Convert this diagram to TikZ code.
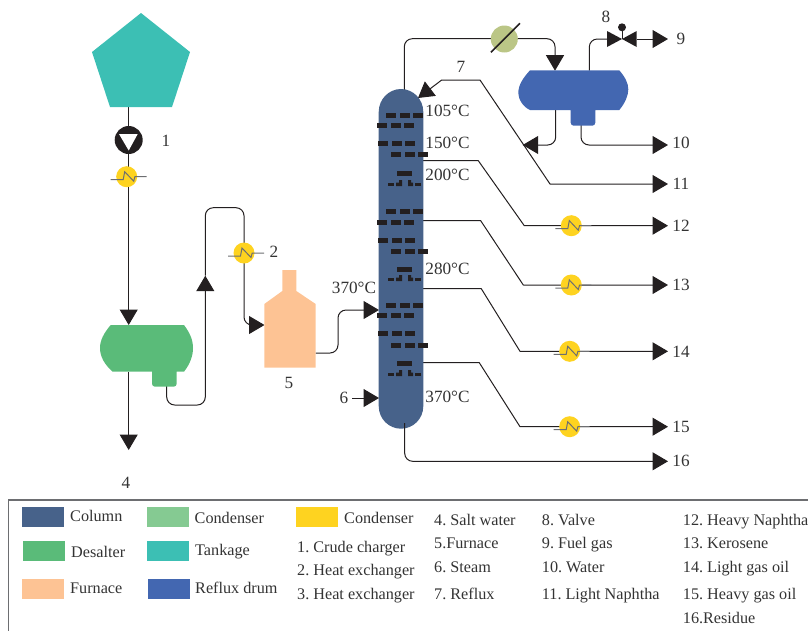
\documentclass[tikz,border=0pt]{standalone}
\usepackage{fontspec}
\setmainfont{Liberation Serif}
\usetikzlibrary{arrows.meta}
\frenchspacing
\definecolor{ink}{HTML}{231F20}
\definecolor{txt}{HTML}{333333}
\definecolor{colblue}{HTML}{47628A}
\definecolor{condgreen}{HTML}{85CA92}
\definecolor{condolive}{HTML}{BBC686}
\definecolor{hxyellow}{HTML}{FED320}
\definecolor{desgreen}{HTML}{5ABB79}
\definecolor{tealtank}{HTML}{3CBFB4}
\definecolor{furn}{HTML}{FDC394}
\definecolor{drum}{HTML}{4367B1}
\definecolor{zig}{HTML}{6D6E71}
\tikzset{
  pipe/.style={draw=ink,line width=1pt,line join=round},
  bentpipe/.style={pipe,rounded corners=8pt},
  headed/.style={-{Triangle[length=15.5pt,width=18pt]}},
  hxnode/.style={circle,fill=hxyellow,minimum size=21pt,inner sep=0pt},
  ziga/.style={draw=zig,line width=1pt},
  lab/.style={text=txt,font=\fontsize{17.2}{20}\selectfont,inner sep=0pt},
  leg/.style={text=txt,font=\fontsize{16.2}{18}\selectfont,inner sep=0pt,anchor=base west},
  swatch/.style={minimum width=42pt,minimum height=20pt,inner sep=0pt,anchor=north west},
  tray/.style={fill=ink}
}
\newcommand{\hxat}[3]{%
  \node[hxnode] (#1) at (#2,#3) {};
  \draw[ziga] (#2-16,#3+3) -- ++(12.5,0) -- ++(1.5,-8) -- ++(9,9.5) -- ++(1.2,-4.5) -- (#2+20,#3);
}
\newcommand{\trayA}[2]{% two staggered rows
  \foreach \x in {386,400,413} \fill[tray] (\x,#1-2.5) rectangle ++(10,5);
  \foreach \x in {377,391,404} \fill[tray] (\x,#2-2.5) rectangle ++(10,5);
}
\newcommand{\trayB}[2]{%
  \foreach \x in {378,392,405} \fill[tray] (\x,#1-2.5) rectangle ++(10,5);
  \foreach \x in {391,405,418} \fill[tray] (\x,#2-2.5) rectangle ++(10,5);
}
\newcommand{\trayC}[2]{%
  \fill[tray] (397,#1-2.5) rectangle ++(15,5);
  \fill[tray] (388,#2-1.5) rectangle ++(6,3.5);
  \fill[tray] (396,#2-1.5) -- (399,#2-1.5) -- (399,#2-4) -- (402,#2-4) -- (402,#2+2) -- (396,#2+2) -- cycle;
  \fill[tray] (408,#2-4) -- (411,#2-4) -- (411,#2-1.5) -- (413,#2-1.5) -- (413,#2+2) -- (408,#2+2) -- cycle;
  \fill[tray] (415,#2-1.5) rectangle ++(6,3.5);
}
\begin{document}
\begin{tikzpicture}[x=1pt,y=-1pt]
\useasboundingbox (0,0) rectangle (808,630);
\clip (0,0) rectangle (808,630);

% ---- anchors for connectors
\coordinate (tankB) at (128.7,107);
\coordinate (desT) at (128.7,325);
\coordinate (desB) at (128.7,372);
\coordinate (out4) at (128.7,450);
\coordinate (desBoot) at (166.7,386);
\coordinate (upTip) at (205.3,275.7);
\coordinate (furnIn) at (264.5,325);
\coordinate (furnOut) at (315.5,353);
\coordinate (colIn) at (379,310);
\coordinate (steamS) at (352,398);
\coordinate (steamE) at (379,398);
\coordinate (colTop) at (404.3,90);
\coordinate (colBot) at (404.7,423);
\coordinate (drumIn) at (555,70.7);
\coordinate (drumGas) at (589.3,70.5);
\coordinate (drumRefl) at (555.7,110);
\coordinate (drumBoot) at (581,125);
\coordinate (reflTip) at (522.7,145);
\coordinate (colRefl) at (418,98);
\coordinate (s12) at (423,160.7);
\coordinate (s13) at (423,220.7);
\coordinate (s14) at (423,288.7);
\coordinate (s15) at (423,362.7);
\coordinate (valveL) at (607,39);
\coordinate (valveC) at (622,39);
\coordinate (valveR) at (636.7,39);
\foreach \n/\y in {9/39,10/145,11/184,12/225.7,13/285,14/351.3,15/426.7,16/461.3}
  \coordinate (out\n) at (668,\y);

% ---- pipes behind equipment
\draw[pipe] (tankB) -- (128.7,126);
\draw[pipe,headed] (128.7,150) -- (desT);
\draw[pipe,headed] (desB) -- (out4);
\draw[bentpipe,headed] (desBoot) |- (205.3,405) -- (upTip);
\draw[bentpipe,headed] (upTip) |- (244,207.7) -- (244,325) -- (furnIn);
\draw[bentpipe,headed] (furnOut) -- (338,353) -- (338,310) -- (colIn);
\draw[bentpipe,headed] (colTop) |- (555,38.7) -- (drumIn);
\draw[bentpipe] (drumGas) |- (valveL);
\draw[pipe,headed] (valveR) -- (out9);
\draw[bentpipe,headed] (drumRefl) |- (reflTip);
\draw[bentpipe,headed] (drumBoot) |- (out10);
\draw[pipe,{Triangle[length=15.5pt,width=18pt]}-{Triangle[length=15.5pt,width=18pt]}] (colRefl) -- (441.7,80) -- (480,80) -- (550,184) -- (out11);
\draw[pipe,headed] (s12) -- (478.3,160.7) -- (524.3,225.7) -- (out12);
\draw[pipe,headed] (s13) -- (480.7,220.7) -- (523.3,285) -- (out13);
\draw[pipe,headed] (s14) -- (481.3,288.7) -- (520,351.3) -- (out14);
\draw[pipe,headed] (s15) -- (479.3,362.7) -- (520,426.7) -- (out15);

% ---- tank
\fill[tealtank] (141,13) -- (190,52) -- (172,107) -- (110,107) -- (92,52) -- cycle;
% ---- pump
\node[circle,fill=ink,minimum size=28pt,inner sep=0pt] (pump) at (128.7,140) {};
\fill[white] (119,134) -- (137.7,134) -- (128.7,150.5) -- cycle;
% ---- desalter
\fill[desgreen] (110.7,325) -- (184,325) .. controls (190,333) and (193,340) .. (193,348)
  .. controls (193,356) and (190,364) .. (184,371.7) -- (176.7,371.7) -- (176.7,383) [rounded corners=3pt] -- (176.7,386.7) -- (152,386.7) [sharp corners] -- (152,371.7)
  -- (112.7,371.7) .. controls (105,365) and (100,357) .. (100,348) .. controls (100,340) and (104,333) .. (110.7,325) -- cycle;
% ---- furnace
\fill[furn] (264.3,304) -- (282.3,291) -- (282.3,270) -- (296.3,270) -- (296.3,291) -- (315.7,304) -- (315.7,367.7) -- (264.3,367.7) -- cycle;
% ---- drum
\fill[drum] (530,70.3) -- (619.3,70.3) .. controls (625,77) and (628.3,83) .. (628.3,89.3)
  .. controls (628.3,96) and (625,103) .. (619.3,110) -- (595.3,110) [rounded corners=3pt] -- (595.3,125.7) -- (570.7,125.7) [sharp corners] -- (570.7,110)
  -- (530,110) .. controls (523,107) and (518.3,99) .. (518.3,93) .. controls (518.3,85) and (523,78) .. (530,70.3) -- cycle;
% ---- column
\fill[colblue] (378.7,112) .. controls (378.7,99) and (389,89) .. (401,89)
  .. controls (413,89) and (423.3,99) .. (423.3,112) -- (423.3,406)
  .. controls (423.3,419) and (413,428.7) .. (401,428.7)
  .. controls (389,428.7) and (378.7,419) .. (378.7,406) -- cycle;
\draw[pipe,headed,rounded corners=8pt] (colBot) -- (404.7,461.3) -- (out16);
\trayA{115}{125}
\trayB{143}{154}
\trayC{173}{184}
\trayA{211}{222}
\trayB{240}{251}
\trayC{269}{279}
\trayA{305}{315}
\trayB{333}{345}
\trayC{363}{374}
% ---- arrows drawn over the column edge
\draw[pipe,headed] (steamS) -- (steamE);

% ---- overhead condenser
\node[circle,fill=condolive,minimum size=27pt,inner sep=0pt] (cond) at (504.3,39) {};
\draw[ink,line width=1.6pt] (491,52.3) -- (520,23.3);
% ---- valve
\fill[ink] (valveL) ++(0,-8) -- (valveC) -- (607,47) -- cycle;
\fill[ink] (valveR) ++(0,-8) -- (valveC) -- (636.7,47) -- cycle;
\draw[ink,line width=1pt] (valveC) -- (622,28);
\fill[ink] (622,27.3) circle (4);
% ---- heat exchangers
\hxat{hxa}{126.7}{176.7}
\hxat{hxb}{244}{253}
\hxat{hxc}{571.3}{225.7}
\hxat{hxd}{571.3}{285}
\hxat{hxe}{569.7}{351.3}
\hxat{hxf}{569.7}{426.7}

% ---- diagram labels
\node[lab] (n1) at (166,141) {1};
\node[lab] (n2) at (274,252) {2};
\node[lab] (n4) at (126,483) {4};
\node[lab] (n5) at (289,383) {5};
\node[lab] (n6) at (344,398) {6};
\node[lab] (n7) at (461,67) {7};
\node[lab] (n8) at (606,17) {8};
\node[lab] (n9) at (681,39) {9};
\foreach \n/\y in {10/143,11/184,12/226,13/285,14/352,15/427,16/461}
  \node[lab] (n\n) at (681,\y) {\n};
\node[lab] (t1) at (447.5,111) {105°C};
\node[lab] (t2) at (447.5,143) {150°C};
\node[lab] (t3) at (447.5,175) {200°C};
\node[lab] (t4) at (447.5,269) {280°C};
\node[lab] (t5) at (447.5,397) {370°C};
\node[lab] (t6) at (354,288) {370°C};

% ---- legend
\draw[draw=zig,line width=1.2pt] (8.5,500) rectangle (830,650);
\node[swatch,fill=colblue] (s1) at (22,507) {};
\node[swatch,fill=condgreen] (s2) at (147,507) {};
\node[swatch,fill=hxyellow] (s3) at (296,507) {};
\node[swatch,fill=desgreen] (s4) at (23,541) {};
\node[swatch,fill=tealtank] (s5) at (147,541) {};
\node[swatch,fill=furn] (s6) at (22,579) {};
\node[swatch,fill=drum] (s7) at (148,579) {};
\node[leg] (l1) at (70,521) {Column};
\node[leg] (l2) at (194.5,523) {Condenser};
\node[leg] (l3) at (344,523) {Condenser};
\node[leg] (l4) at (71,557) {Desalter};
\node[leg] (l5) at (195,555) {Tankage};
\node[leg] (l6) at (70,593) {Furnace};
\node[leg] (l7) at (195,593) {Reflux drum};
\node[leg] (k1) at (297,552) {1. Crude charger};
\node[leg] (k2) at (297,575) {2. Heat exchanger};
\node[leg] (k3) at (297,599) {3. Heat exchanger};
\node[leg] (k4) at (434,525) {4. Salt water};
\node[leg] (k5) at (434,548) {5.Furnace};
\node[leg] (k6) at (434,572) {6. Steam};
\node[leg] (k7) at (434,599) {7. Reflux};
\node[leg] (k8) at (541.7,525) {8. Valve};
\node[leg] (k9) at (541.7,548) {9. Fuel gas};
\node[leg] (k10) at (541.7,572) {10. Water};
\node[leg] (k11) at (541.7,599) {11. Light Naphtha};
\node[leg] (k12) at (682.7,525) {12. Heavy Naphtha};
\node[leg] (k13) at (682.7,548) {13. Kerosene};
\node[leg] (k14) at (682.7,572) {14. Light gas oil};
\node[leg] (k15) at (682.7,599) {15. Heavy gas oil};
\node[leg] (k16) at (682.7,623) {16.Residue};
\end{tikzpicture}
\end{document}
